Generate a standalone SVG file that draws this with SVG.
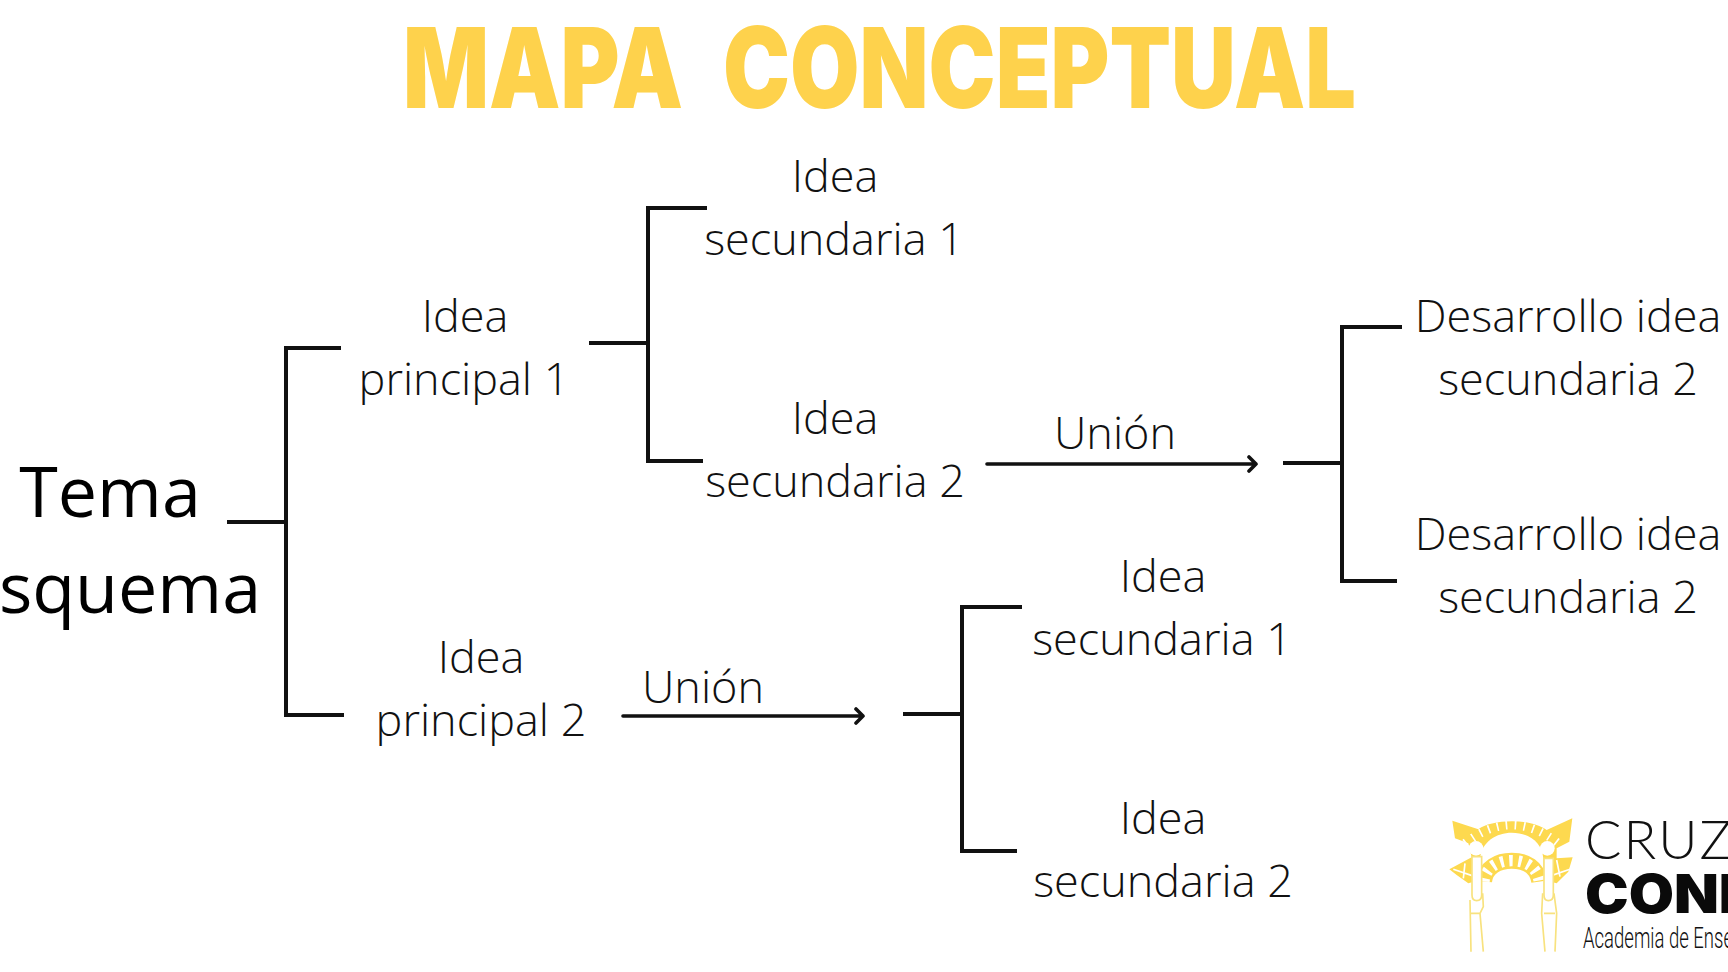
<svg xmlns="http://www.w3.org/2000/svg" width="1728" height="972" viewBox="0 0 1728 972">
<style>
.t{font-family:"Open Sans","Noto Sans",sans-serif;font-weight:300;font-size:45px;fill:#111;text-anchor:middle}
.b{font-family:"Open Sans","Noto Sans",sans-serif;font-weight:400;font-size:70px;fill:#000;text-anchor:middle}
.l{fill:none;stroke:#111;stroke-width:4;stroke-linecap:butt;stroke-linejoin:miter}
.a{fill:none;stroke:#111;stroke-width:3.6;stroke-linecap:round;stroke-linejoin:round}
.y{fill:#fdd94f}
.p{fill:none;stroke:#f8e27e;stroke-width:5}
.h{font-family:Inter,"Liberation Sans",sans-serif;font-weight:900;font-size:112px;fill:#fed24c}
</style>
<rect width="1728" height="972" fill="#fff"/>
<g id="title"><text class="h" x="403" y="108" textLength="280" lengthAdjust="spacingAndGlyphs">MAPA</text><text class="h" x="723" y="108" textLength="633" lengthAdjust="spacingAndGlyphs">CONCEPTUAL</text></g>
<g id="connectors">
<path class="l" d="M227 522H286M341 348H286V715H344"/>
<path class="l" d="M589 343H648M707 208H648V461H703"/>
<path class="l" d="M1283 463H1342M1402 327H1342V581H1397"/>
<path class="l" d="M903 714H962M1022 607H962V851H1017"/>
<path class="a" d="M987 464H1256M1249 457L1256 464L1249 471"/>
<path class="a" d="M623 716H863M856 709L863 716L856 723"/>
</g>
<g id="tema"><text class="b" x="110" y="517">Tema</text><text class="b" x="130" y="613">squema</text></g>
<g id="ip1"><text class="t" x="465" y="332">Idea</text><text class="t" x="464" y="395">principal 1</text></g>
<g id="ip2"><text class="t" x="481" y="673">Idea</text><text class="t" x="481" y="736">principal 2</text></g>
<g id="is1"><text class="t" x="835" y="192">Idea</text><text class="t" x="834" y="255">secundaria 1</text></g>
<g id="is2"><text class="t" x="835" y="434">Idea</text><text class="t" x="835" y="497">secundaria 2</text></g>
<g id="u1"><text class="t" x="1115" y="449">Unión</text></g>
<g id="u2"><text class="t" x="703" y="703">Unión</text></g>
<g id="d1"><text class="t" x="1568" y="332">Desarrollo idea</text><text class="t" x="1568" y="395">secundaria 2</text></g>
<g id="d2"><text class="t" x="1568" y="550">Desarrollo idea</text><text class="t" x="1568" y="613">secundaria 2</text></g>
<g id="is3"><text class="t" x="1163" y="592">Idea</text><text class="t" x="1162" y="655">secundaria 1</text></g>
<g id="is4"><text class="t" x="1163" y="834">Idea</text><text class="t" x="1163" y="897">secundaria 2</text></g>
<g id="logo">
<g transform="translate(1400 780) scale(.3333)">
<path class="y" d="M157 122L235 148C270 118 390 112 440 150L517 115L508 185L470 205L470 235L518 232L505 275L470 310L430 300L240 300L205 310L170 285L148 268L215 232L205 190L165 175Z"/>
<path d="M195 190Q335 80 475 190" fill="none" stroke="#fff" stroke-width="26" stroke-dasharray="5 22"/>
<path d="M240 235C245 185 290 158 335 158C385 158 425 185 430 235L430 320L240 320Z" fill="#fff"/>
<path d="M252 305C255 262 295 242 335 242C378 242 412 262 418 305" fill="none" stroke="#fdd94f" stroke-width="48"/>
<path d="M252 305C255 262 295 242 335 242C378 242 412 262 418 305" fill="none" stroke="#fff" stroke-width="34" stroke-dasharray="10 17"/>
<path d="M160 268L225 290M510 268L445 290M470 240L480 290M195 250L190 295" fill="none" stroke="#fff" stroke-width="5"/>
<circle cx="228" cy="205" r="22" fill="#fff"/><circle cx="442" cy="205" r="22" fill="#fff"/>
<path d="M216 230H245V345Q245 362 230 362Q216 362 216 345ZM432 235H460V345Q460 362 445 362Q432 362 432 345Z" fill="#fff" stroke="#f8e27e" stroke-width="5"/>
<path class="p" d="M210 360L213 515M248 340L250 380L240 400L250 515M462 340L470 400L465 515M428 340L425 400L435 515M212 400H240M432 400H465"/>
</g>
<text x="1585" y="859" font-family="Lato,'Open Sans',sans-serif" font-weight="300" font-size="54" fill="#111" letter-spacing="2">CRUZ</text>
<text x="1585" y="913" textLength="176" lengthAdjust="spacingAndGlyphs" font-family="Inter,Lato,sans-serif" font-weight="900" font-size="53" fill="#0a0a0a">COND</text>
<text x="1583" y="948" textLength="150" lengthAdjust="spacingAndGlyphs" font-family="Roboto,Lato,sans-serif" font-weight="300" font-size="30" fill="#111">Academia de Ense</text>
</g>
</svg>
